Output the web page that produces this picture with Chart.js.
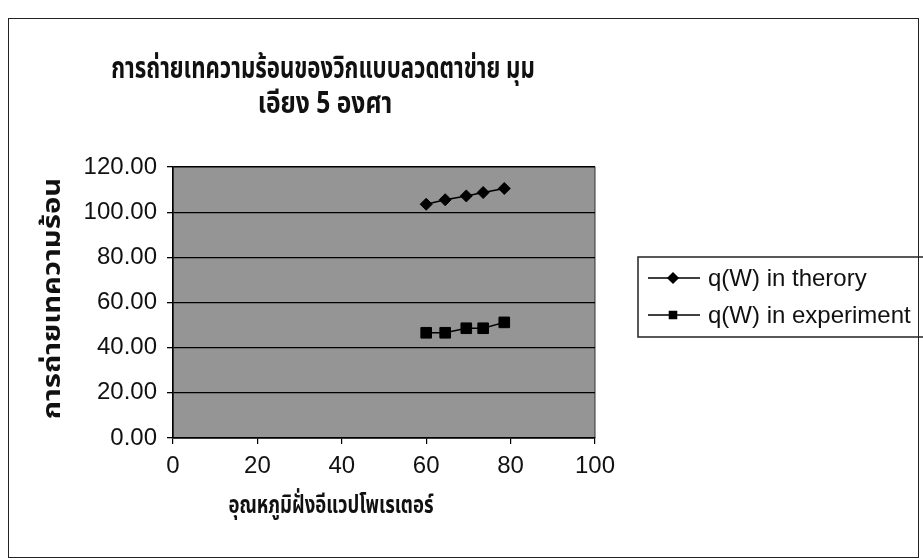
<!DOCTYPE html>
<html>
<head>
<meta charset="utf-8">
<script src="https://cdn.jsdelivr.net/npm/chart.js@4/dist/chart.umd.min.js"></script>
<style>
  html, body { margin: 0; padding: 0; background: #fff; }
  #wrap { position: relative; width: 923px; height: 560px; overflow: hidden; }
  #frame { position: absolute; left: 8px; top: 18px; width: 911px; height: 540px; border: 1.5px solid #222; box-sizing: border-box; }
  #chart { position: absolute; left: 0; top: 0; }
</style>
</head>
<body>
<div id="wrap">
  <div id="frame"></div>
  <canvas id="chart" width="923" height="560"></canvas>
</div>
<script>
// heat transfer of mesh wick, 5 degree tilt
const titleLines = ['การถ่ายเทความร้อนของวิกแบบลวดตาข่าย มุม', 'เอียง 5 องศา'];
const xAxisTitle = 'อุณหภูมิฝั่งอีแวปโพเรเตอร์';
const yAxisTitle = 'การถ่ายเทความร้อน';
const seriesNames = ['q(W) in therory', 'q(W) in experiment'];

const tempX = [60, 64.5, 69.5, 73.5, 78.5];
const qTheory = [103.5, 105.5, 107.2, 108.7, 110.5];
const qExperiment = [46.6, 46.6, 48.6, 48.6, 51.2];

const xTicks = [0, 20, 40, 60, 80, 100];
const yTicks = [0, 20, 40, 60, 80, 100, 120];

const thaiFont = '"Noto Sans Thai", "Noto Sans", "DejaVu Sans", sans-serif';
const latinFont = '"Liberation Sans", Arial, sans-serif';

const toPoints = ys => tempX.map((x, i) => ({ x: x, y: ys[i] }));

// the original uses a narrow thai face, so squeeze the text a bit
function drawText(ctx, text, x, y, font, sx, rot) {
  ctx.save();
  ctx.translate(x, y);
  if (rot) ctx.rotate(rot);
  ctx.scale(sx, 1);
  ctx.font = font;
  ctx.textAlign = 'center';
  ctx.textBaseline = 'middle';
  ctx.fillText(text, 0, 0);
  ctx.restore();
}

// grey plot background + border
const plotBg = {
  id: 'plotBg',
  beforeDraw(chart) {
    const { ctx, chartArea: a } = chart;
    ctx.save();
    ctx.fillStyle = '#959595';
    ctx.fillRect(a.left, a.top, a.width, a.height);
    ctx.strokeStyle = '#333';
    ctx.lineWidth = 1;
    ctx.strokeRect(a.left, a.top, a.width, a.height);
    ctx.restore();
  }
};

// title and axis titles placed like the excel original
const texts = {
  id: 'texts',
  afterDraw(chart) {
    const { ctx, chartArea: a } = chart;
    ctx.save();
    ctx.fillStyle = '#111';
    drawText(ctx, titleLines[0], 323, 72, 'bold 30px ' + thaiFont, 0.74);
    drawText(ctx, titleLines[1], 325, 107, 'bold 30px ' + thaiFont, 0.82);
    drawText(ctx, xAxisTitle, a.left + 158, a.bottom + 70, 'bold 25px ' + thaiFont, 0.74);
    drawText(ctx, yAxisTitle, a.left - 118, (a.top + a.bottom) / 2 - 4, 'bold 24px ' + thaiFont, 1.22, -Math.PI / 2);
    ctx.restore();
  }
};

// boxed legend with line + marker samples
const boxLegend = {
  id: 'boxLegend',
  afterDraw(chart) {
    const { ctx, chartArea: a } = chart;
    const x0 = a.right + 43, y0 = 257, w = 290, h = 80;
    ctx.save();
    ctx.strokeStyle = '#222';
    ctx.lineWidth = 1.5;
    ctx.strokeRect(x0, y0, w, h);
    ctx.font = '24px ' + latinFont;
    ctx.textBaseline = 'middle';
    chart.data.datasets.forEach((ds, i) => {
      const y = y0 + 21 + i * 37;
      ctx.strokeStyle = '#000';
      ctx.lineWidth = 1.5;
      ctx.beginPath();
      ctx.moveTo(x0 + 10, y);
      ctx.lineTo(x0 + 62, y);
      ctx.stroke();
      ctx.fillStyle = '#000';
      Chart.helpers.drawPoint(ctx, { pointStyle: ds.pointStyle, radius: 5, borderWidth: 1 }, x0 + 35, y);
      ctx.fill();
      ctx.fillStyle = '#111';
      ctx.fillText(ds.label, x0 + 70, y + 1);
    });
    ctx.restore();
  }
};

new Chart(document.getElementById('chart'), {
  type: 'scatter',
  data: {
    datasets: [
      {
        label: seriesNames[0],
        data: toPoints(qTheory),
        showLine: true,
        borderColor: '#000',
        backgroundColor: '#000',
        borderWidth: 1.5,
        pointStyle: 'rectRot',
        pointRadius: 6,
        pointBorderWidth: 1
      },
      {
        label: seriesNames[1],
        data: toPoints(qExperiment),
        showLine: true,
        borderColor: '#000',
        backgroundColor: '#000',
        borderWidth: 1.5,
        pointStyle: 'rect',
        pointRadius: 7.5,
        pointBorderWidth: 1
      }
    ]
  },
  options: {
    responsive: false,
    animation: false,
    layout: { padding: { top: 167, left: 51, right: 328, bottom: 10 } },
    plugins: {
      legend: { display: false },
      tooltip: { enabled: false },
      title: { display: false }
    },
    scales: {
      x: {
        type: 'linear',
        min: 0,
        max: 100,
        afterBuildTicks: s => { s.ticks = xTicks.map(v => ({ value: v })); },
        afterFit: s => { s.height = 112; },
        ticks: { color: '#111', padding: 8, font: { family: latinFont, size: 24 } },
        grid: { drawOnChartArea: false, color: '#000', tickLength: 6, lineWidth: 1.2 },
        border: { color: '#000', width: 1.5 }
      },
      y: {
        type: 'linear',
        min: 0,
        max: 120,
        afterBuildTicks: s => { s.ticks = yTicks.map(v => ({ value: v })); },
        afterFit: s => { s.width = 122; },
        ticks: { color: '#111', padding: 10, font: { family: latinFont, size: 24 }, callback: v => v.toFixed(2) },
        grid: { color: '#000', tickLength: 6, lineWidth: 1.3 },
        border: { color: '#000', width: 1.5 }
      }
    }
  },
  plugins: [plotBg, texts, boxLegend]
});
</script>
</body>
</html>
